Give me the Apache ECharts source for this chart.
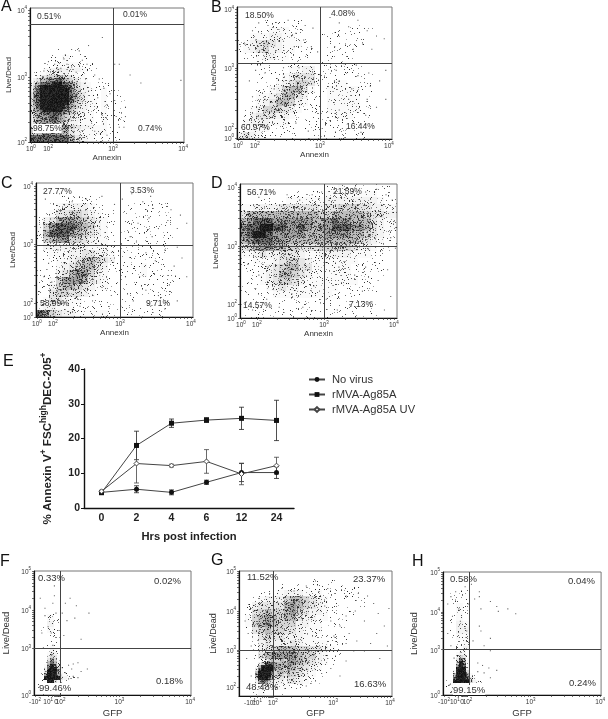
<!DOCTYPE html>
<html><head><meta charset="utf-8">
<style>html,body{margin:0;padding:0;background:#fff}#c{width:608px;height:719px;filter:blur(0.5px)}</style>
<script src="https://cdn.jsdelivr.net/npm/echarts@6/dist/echarts.min.js"></script>
</head><body><div id="c"></div>
<script>
// ---- Panel E values
const hours = ['0','2','4','6','12','24'];
const noVirus = [4.5,5.4,4.5,7.4,10.2,10.2];
const noVirusErr = [0.3,1.0,0.7,0.6,2.6,1.7];
const ag85a = [4.4,18.0,24.4,25.3,25.8,25.2];
const ag85aErr = [0.3,4.1,1.2,0.7,3.2,5.8];
const ag85aUV = [4.8,12.8,12.2,13.4,9.8,12.2];
const ag85aUVErr = [0.3,5.6,0.4,3.4,3.1,2.4];

// ---- Density: rows top to bottom, cols left to right, digit = darkness
const densA = ['000000000000000000000000','000000000000000000000000','000000000000000000000000','000000000000000000000000','000000000000000000000000','000000000000000000000000','000010010000000000000000','000112111000000000000000','001122221100000000000000','012343332110000000000000','156766543211000000000000','378998754211100000000000','479999864322110000000000','479999864322111000000000','479999854322111000000000','478998653322111000000000','367887543322111000000000','357887543322110000000000','567776432222110000000000','888888643211110000000000'];
const densB = ['000000000000000000000000','000000000000000000000000','000011111100000000100000','001112221110000111111000','012223322110011111111000','123454322210001111110000','123453322111001111110000','011233221110001111000000','001111111110011111100000','000111112233011111110000','000111123444211111111000','000111234554211221111000','000112356642112222211000','000223466431112222211000','001234665321112222211000','012355543211112222211000','013444332111111222111000','023332221111111111110000','112221111111111111110000','343211111111110111110000'];
const densC = ['000000000000000000000000','000000000000000000000000','000011111100000011000000','001233332110001111111000','012445543211011111111000','134677654321011111111000','257888765321011111111000','268887654321011111111000','156775543221011111111000','133333332221011111111000','112223344332111111111000','111223456543111111111000','111234566431111121111000','111346775321111121111100','112577764321111111111100','113566543221111111111000','114554432111111111111000','124432211111111111111000','233222111111111111110000','875433222221111111110000'];
const densD = ['000000000000111211111110','000000011111122222222110','000111122222233333333211','223333444444344555443322','466666666666556666654433','678887777776678776664322','788998877876778887764322','789987777766677776654321','678887766666666666543211','456776655444555554332111','223433444322333332221100','112223455432222222111100','111234566442222221111100','111234665432222221111100','111234554322222222111000','111123433222222111111000','111112222222221111111000','111111111111111111111000','111111111111111111111000','111111111111111111111000'];
const densF = ['000000000000000000000000','000000000000000000000000','000000000000000000000000','000000000000000000000000','000000000000000000000000','000000000000000000000000','000000000000000000000000','002100000000000000000000','013100000000000000000000','012100000000000000000000','001100000000000000000000','001100000000000000000000','003200000000000000000000','005300000000000000000000','008500000000000000000000','019960000000000000000000','029983100000000000000000','059994100000000000000000','011100000000000000000000','011000000000000000000000'];
const densG = ['000000000000000000000000','000000000001101000000000','000000111111111111100000','000111233322211111100000','001233356654321111110000','013444467654321111110000','014565567543321111000000','025676566433221110000000','025676555332211110000000','014565544322211110000000','002454433322111110000000','001343334322221110000000','001345666554432100000000','001467777655321100000000','002799877654321000000000','003999876543210000000000','003999765432110000000000','002997544321100000000000','001222221110000000000000','001211100000000000000000'];
const densH = ['000000000000000000000000','000000000000000000000000','000000000000000000000000','011100000000000000000000','011100000000000000000000','012100000000000000000000','012100000000000000000000','012100000000000000000000','013200000000000000000000','013300000000000000000000','012200000000000000000000','001200000000000000000000','001300000000000000000000','005600000000000000000000','007800000000000000000000','009910000000000000000000','029952000000000000000000','019982000000000000000000','011100000000000000000000','011000000000000000000000'];

// Finer reading (half-size cells) of the dense blobs: first fine row, then rows starting at col 0
const fineA = [19,['0112233333332221100000','0124455566544322211100','1346677788765443221110','2468888999887654322111','3579999999988654332111','3689999999998755332211','4789999999998765432211','4789999999998765432211','4789999999998765432221','4789999999997654332221','4689999999987654332221','4678999999876543322211','3567888888765443322211','3567778887654433222211','3567778877654333222211','3567777776543332222111']];
const fineF = [24,['000012100000','000013210000','000024310000','000035420000','000047520000','000168631000','000279741000','000389952100','001499962100','001799973210','001999994321','001299532110','012211100000','011110000000','012110000000','001100000000']];
const fineG = [28,['000000023565565','000000358887666','000002699997766','000004899996665','000006999985665','000006999975554','000005999864443','000003787543332']];
const fineH = [25,['000012200000','000023300000','000035410000','000048620000','000059720000','000079820000','000199930000','000399951000','001699972100','001899984210','012999995321','012210000000','011110000000','012100000000','001100000000']];

// ---- Individually visible events [display x, display y], 0-100 on each panel
const dotsA = [[47,78],[38,72],[32,68],[27,69],[23,65],[22,62],[12,60],[24,58],[34,61],[37,58],[27,56],[9,53],[55,58],[58,58],[65,50],[72,44],[98,46],[56,19],[62,19],[58,11],[61,11],[55,31],[62,26],[30,52],[20,55],[16,58],[42,50],[45,47],[48,40],[44,33],[50,28],[47,20],[40,14],[52,36],[36,44],[34,30],[28,16],[42,8],[50,5],[38,38]];
const dotsB = [[10,82],[14,88],[20,86],[27,83],[33,90],[38,80],[44,86],[49,84],[60,92],[66,88],[72,85],[78,90],[84,82],[90,78],[95,76],[63,70],[70,72],[75,68],[81,72],[87,68],[5,72],[8,68],[12,75],[30,74],[37,70],[43,75],[48,70],[52,66],[96,52],[92,44],[86,40],[78,48],[72,30],[66,22],[60,14],[68,8],[75,12],[83,18],[90,24],[96,30],[88,10],[80,5],[55,8],[46,6],[38,12],[30,8],[18,30],[24,38],[10,32],[8,44],[12,52],[18,50],[30,54],[40,54],[62,36],[66,44],[74,38],[84,30],[64,52],[69,57],[77,56],[85,50]];
const dotsC = [[6,88],[15,92],[23,86],[32,88],[42,90],[50,84],[55,88],[61,92],[68,86],[73,90],[80,84],[86,80],[92,76],[65,70],[72,74],[78,66],[84,72],[90,66],[96,70],[64,56],[70,48],[76,42],[82,50],[88,38],[93,44],[96,30],[85,24],[78,16],[70,20],[62,12],[66,30],[73,8],[90,12],[57,30],[50,44],[8,40],[14,50],[5,30],[10,26],[42,22],[48,16],[36,12],[54,8],[28,8],[60,60],[74,60],[90,52],[82,6]];
const dotsD = [[12,90],[20,94],[30,92],[38,88],[46,92],[52,94],[60,96],[67,92],[73,97],[80,94],[87,96],[93,92],[97,88],[98,72],[96,60],[99,52],[5,40],[12,32],[10,22],[17,14],[25,8],[33,18],[40,8],[47,24],[55,14],[62,6],[70,10],[78,20],[84,12],[92,6],[96,16],[88,28],[94,36],[80,38],[73,32],[63,38],[4,12],[8,6],[18,38],[26,28]];
const dotsF = [[4,78],[7,70],[12,74],[13,80],[13,88],[20,74],[23,78],[27,72],[26,62],[35,66],[30,45],[28,26],[25,25],[22,24],[18,22],[20,18],[24,21],[34,21],[30,19],[7,64],[9,55],[14,66],[5,50],[16,52],[19,48],[12,40],[21,60],[17,16],[22,13],[25,15],[28,14],[6,6],[8,4],[11,3],[14,8],[18,66],[11,50],[6,38]];
const dotsG = [[36,84],[44,88],[50,92],[58,86],[63,82],[70,80],[78,82],[84,80],[88,74],[91,66],[95,56],[90,50],[82,60],[76,68],[70,64],[66,56],[62,48],[72,50],[77,44],[82,36],[92,30],[97,40],[70,28],[60,22],[66,16],[50,12],[44,8],[30,6],[4,60],[6,50],[8,40],[5,30],[8,16],[7,10],[10,68],[14,74],[20,82],[28,86],[56,72],[60,60],[70,42],[75,36],[58,30],[54,18],[98,70],[86,42]];
const dotsH = [[3,74],[5,80],[8,84],[10,70],[14,88],[16,74],[18,90],[20,78],[23,84],[24,70],[23,80],[23,56],[30,76],[34,72],[35,68],[41,70],[46,66],[30,46],[26,40],[30,36],[34,20],[29,22],[25,24],[22,26],[22,19],[26,18],[30,14],[3,50],[5,40],[7,30],[11,60],[15,52],[4,8],[6,6],[7,4],[24,52],[6,64],[19,44]];

// ---- Gate positions (display units)
const gateA = [53.9,87.8]; const gateB = [53.5,57.6]; const gateC = [53.5,53.7]; const gateD = [53.5,53.7];
const gateF = [16.9,37.6]; const gateG = [22.2,36.8]; const gateH = [16.7,36.8];

// ---- Tick label positions (display units)
const xTicksA = [[0.6,'0'],[11.7,'2'],[53.9,'3'],[99.4,'4']];
const yTicksA = [[0,'2'],[48.5,'3'],[98.5,'4']];
const xTicksB = [[0.6,'0'],[11.6,'2'],[53.5,'3'],[98,'4']];
const yTicksB = [[0.8,'0'],[8.5,'2'],[53.8,'3'],[98,'4']];
const xTicksC = [[0.6,'0'],[10.8,'2'],[53.5,'3'],[98.7,'4']];
const yTicksC = [[0,'0'],[10.5,'2'],[54.5,'3'],[97.8,'4']];
const xTicksD = [[0.6,'0'],[10.8,'2'],[53.5,'3'],[98,'4']];
const yTicksD = [[0,'0'],[10.5,'2'],[53.7,'3'],[97.8,'4']];
const xTicksF = [[0.6,'-2'],[9,'1'],[14,'o'],[16.9,'2'],[54.4,'3'],[99.4,'4']];
const yTicksF = [[0,'0'],[37.6,'3'],[68.5,'4'],[100,'5']];
const xTicksG = [[2,'-2'],[7.2,'-1'],[11.8,'1'],[22.2,'2'],[61.5,'3'],[98.7,'4']];
const yTicksG = [[0,'0'],[7,'2'],[36.8,'3'],[68,'4'],[100,'5']];
const xTicksH = [[0.6,'-2'],[7.5,'1'],[12,'o'],[15.5,'2'],[55.5,'3'],[99.4,'4']];
const yTicksH = [[0,'0'],[36.8,'3'],[67.5,'4'],[100,'5']];

const quadA = ['0.51%','0.01%','98.75%','0.74%'];
const quadB = ['18.50%','4.08%','60.97%','16.44%'];
const quadC = ['27.77%','3.53%','58.99%','9.71%'];
const quadD = ['56.71%','21.59%','14.57%','7.13%'];
const quadF = ['0.33%','0.02%','99.46%','0.18%'];
const quadG = ['11.52%','23.37%','48.48%','16.63%'];
const quadH = ['0.58%','0.04%','99.15%','0.24%'];

const panels = [
 {k:'A',box:[30,8,154,134],dens:densA,fine:fineA,dots:dotsA,gate:gateA,xt:xTicksA,yt:yTicksA,q:quadA,xn:'Annexin',yn:'Live/Dead',fs:8.5,ns:8,
  qp:[[37,17],[123,15],[33,129,1],[138,129]],lp:[1,7],xg:11,yg:17},
 {k:'B',box:[237,7,155,132],dens:densB,dots:dotsB,gate:gateB,xt:xTicksB,yt:yTicksB,q:quadB,xn:'Annexin',yn:'Live/Dead',fs:8.5,ns:8,
  qp:[[245,16],[331,14],[241,128],[346,127]],lp:[211,8],xg:11,yg:19},
 {k:'C',box:[36,183,157,134],dens:densC,dots:dotsC,gate:gateC,xt:xTicksC,yt:yTicksC,q:quadC,xn:'Annexin',yn:'Live/Dead',fs:8.5,ns:8,
  qp:[[43,192],[130,191],[40,304],[146,304]],lp:[1,184],xg:11,yg:19},
 {k:'D',box:[240,184,157,134],dens:densD,dots:dotsD,gate:gateD,xt:xTicksD,yt:yTicksD,q:quadD,xn:'Annexin',yn:'Live/Dead',fs:8.5,ns:8,
  qp:[[247,193],[333,192],[243,306],[349,305]],lp:[211,184],xg:11,yg:20},
 {k:'F',box:[31,571,160,125],dens:densF,fine:fineF,dots:dotsF,gate:gateF,xt:xTicksF,yt:yTicksF,q:quadF,xn:'GFP',yn:'Live/Dead',fs:9.5,ns:9.5,
  qp:[[38,578],[154,581],[39,688,1],[156,681]],lp:[0,562],xg:13,yg:23},
 {k:'G',box:[239,571,153,125],dens:densG,fine:fineG,dots:dotsG,gate:gateG,xt:xTicksG,yt:yTicksG,q:quadG,xn:'GFP',yn:'Live/Dead',fs:9.5,ns:9,
  qp:[[247,577],[353,579],[246,687],[354,684]],lp:[211,561],xg:13,yg:21},
 {k:'H',box:[443,572,162,125],dens:densH,fine:fineH,dots:dotsH,gate:gateH,xt:xTicksH,yt:yTicksH,q:quadH,xn:'GFP',yn:'Live/Dead',fs:9.5,ns:9.5,
  qp:[[450,579],[568,581],[453,690,1],[569,683]],lp:[412,562],xg:13,yg:24}
];

// Coarse rows doubled onto the half-size grid, with the finer reading laid over them
function cellRows(p){
  const out=[];
  p.dens.forEach(row=>{ const d=[...row].map(ch=>ch+ch).join(''); out.push(d,d); });
  if(p.fine) p.fine[1].forEach((line,i)=>{ const r=p.fine[0]+i; out[r]=line+out[r].slice(line.length); });
  return out;
}

// Stipple fill for the density cells: a fixed texture per darkness level (wash + grain)
const COVER=[0,.05,.09,.14,.2,.28,.36,.45,.55,.7];
const WASH=[0,0,.02,.05,.1,.17,.27,.38,.58,.86];
const TILE=131;
function grain(x,y,a,b){ const s=Math.sin(x*a+y*b)*43758.5453; return s-Math.floor(s); }
const STIPPLE=COVER.map((f,l)=>{
  const cv=document.createElement('canvas'); cv.width=cv.height=TILE; const g=cv.getContext('2d');
  for(let x=0;x<TILE;x++)for(let y=0;y<TILE;y++){
    let a=WASH[l];
    if(grain(x,y,12.9898,78.233)<f){ const t=.3+.6*grain(x,y,39.346,11.135); a=a+(1-a)*t; }
    if(a>0){ g.fillStyle='rgba(10,10,10,'+a.toFixed(2)+')'; g.fillRect(x,y,1,1);} }
  return cv;
});

const FONT = '"Liberation Sans",Arial,sans-serif';
const grid=[], xAxis=[], yAxis=[], series=[], graphic=[];
const tickRich = {b:{fontSize:6.5,fontFamily:FONT,color:'#333',lineHeight:9,verticalAlign:'bottom'},
                  s:{fontSize:4.5,fontFamily:FONT,color:'#333',lineHeight:9,verticalAlign:'top'}};
function tickText(t){ if(t==='o') return '{b|0}'; return '{b|'+(t[0]==='-'?'-10':'10')+'}{s|'+t.replace('-','')+'}'; }
function minorTicks(ts){
  const pos=[]; const nums=ts.filter(t=>/^\d$/.test(t[1]));
  for(let i=0;i<nums.length-1;i++){ const a=nums[i][0],b=nums[i+1][0];
    if(+nums[i+1][1]-+nums[i][1]!==1) continue;
    for(let m=2;m<10;m++) pos.push(a+(b-a)*Math.log10(m)); }
  return pos;
}
const snap=v=>Math.round(+v.toFixed(3));
function renderDensity(params,api){
  const c=api.coord([api.value(0),api.value(1)]), sz=api.size([1,1]);
  const x1=snap(c[0]-sz[0]/2), x2=snap(c[0]+sz[0]/2), y1=snap(c[1]-sz[1]/2), y2=snap(c[1]+sz[1]/2);
  return {type:'rect',shape:{x:x1,y:y1,width:x2-x1,height:y2-y1},
    style:{fill:{image:STIPPLE[api.value(2)],repeat:'repeat'},stroke:null}};
}
panels.forEach((p,i)=>{
  const gi=grid.length;
  grid.push({left:p.box[0],top:p.box[1],width:p.box[2],height:p.box[3],show:true,borderColor:'#777',borderWidth:1,backgroundColor:'#fff'});
  const xm=new Map(p.xt), ym=new Map(p.yt);
  const xi=xAxis.length, yi=yAxis.length;
  xAxis.push({type:'value',gridIndex:gi,min:0,max:100,name:p.xn,nameLocation:'middle',nameGap:p.xg,
    nameTextStyle:{fontSize:p.ns,fontFamily:FONT,color:'#333'},splitLine:{show:false},
    axisLine:{show:true,onZero:false,lineStyle:{color:'#111',width:1.2}},
    axisTick:{show:true,length:2,customValues:p.xt.map(t=>t[0]).concat(minorTicks(p.xt)),lineStyle:{color:'#333',width:.7}},
    axisLabel:{customValues:p.xt.map(t=>t[0]),margin:2,formatter:v=>tickText(xm.get(v)),rich:tickRich,hideOverlap:false}});
  yAxis.push({type:'value',gridIndex:gi,min:0,max:100,name:p.yn,nameLocation:'middle',nameGap:p.yg,
    nameTextStyle:{fontSize:p.ns,fontFamily:FONT,color:'#333'},splitLine:{show:false},
    axisLine:{show:true,onZero:false,lineStyle:{color:'#111',width:1.2}},
    axisTick:{show:true,length:2,customValues:p.yt.map(t=>t[0]).concat(minorTicks(p.yt)),lineStyle:{color:'#333',width:.7}},
    axisLabel:{customValues:p.yt.map(t=>t[0]),margin:3,formatter:v=>tickText(ym.get(v)),rich:tickRich,hideOverlap:false}});
  const fineRows=cellRows(p);
  const cols=[...fineRows[0]].map((_,c)=>String(c)), rows=fineRows.map((_,r)=>String(r));
  xAxis.push({type:'category',gridIndex:gi,data:cols,show:false});
  yAxis.push({type:'category',gridIndex:gi,data:rows,inverse:true,show:false});
  const cells=[];
  fineRows.forEach((row,r)=>[...row].forEach((d,c)=>{ if(d!=='0') cells.push([c,r,+d]); }));
  series.push({type:'custom',xAxisIndex:xi+1,yAxisIndex:yi+1,data:cells,silent:true,z:1,renderItem:renderDensity,encode:{x:0,y:1}});
  series.push({type:'scatter',xAxisIndex:xi,yAxisIndex:yi,data:p.dots,symbol:'rect',symbolSize:1.1,silent:true,
    itemStyle:{color:'#444'},z:2,
    markLine:{silent:true,symbol:'none',label:{show:false},animation:false,lineStyle:{color:'#444',width:1,type:'solid'},
      data:[{xAxis:p.gate[0]},{yAxis:p.gate[1]}]}});
  p.q.forEach((t,j)=>{ const qp=p.qp[j];
    graphic.push({type:'text',left:qp[0],top:qp[1]-5,z:50,style:{text:t,fontSize:p.fs,fontFamily:FONT,fill:'#333',
      backgroundColor:qp[2]?'#fff':undefined}});
  });
  graphic.push({type:'text',left:p.lp[0],top:p.lp[1]-8,z:50,style:{text:p.k,fontSize:16,fontFamily:FONT,fill:'#111'}});
});
graphic.push({type:'text',left:3,top:354,z:50,style:{text:'E',fontSize:16,fontFamily:FONT,fill:'#111'}});

// ---- Panel E
const gE=grid.length, xE=xAxis.length, yE=yAxis.length;
grid.push({left:84,top:369,width:210,height:139});
xAxis.push({type:'category',gridIndex:gE,data:hours,name:'Hrs post infection',nameLocation:'middle',nameGap:23,
  nameTextStyle:{fontSize:11.2,fontWeight:'bold',fontFamily:FONT,color:'#222'},
  axisLine:{lineStyle:{color:'#111',width:1.4}},axisTick:{alignWithLabel:true,length:3,lineStyle:{color:'#111',width:1}},
  axisLabel:{fontSize:10.5,fontWeight:'bold',fontFamily:FONT,color:'#222',margin:5}});
yAxis.push({type:'value',gridIndex:gE,min:0,max:40,interval:10,splitLine:{show:false},
  name:'{t|% Annexin V}{u|+}{t| FSC}{u|high}{t|DEC-205}{u|+}',nameLocation:'middle',nameGap:30,
  nameTextStyle:{rich:{t:{fontSize:11.6,fontWeight:'bold',fontFamily:FONT,color:'#222',lineHeight:15,verticalAlign:'bottom'},
    u:{fontSize:8.5,fontWeight:'bold',fontFamily:FONT,color:'#222',lineHeight:15,verticalAlign:'top'}}},
  axisLine:{show:true,lineStyle:{color:'#111',width:1.4}},axisTick:{show:true,length:3,lineStyle:{color:'#111',width:1}},
  axisLabel:{fontSize:10.5,fontWeight:'bold',fontFamily:FONT,color:'#222',margin:4}});
function errSeries(vals,errs,color){
  return {type:'custom',xAxisIndex:xE,yAxisIndex:yE,silent:true,z:3,
    data:vals.map((v,i)=>[i,v-errs[i],v+errs[i]]),encode:{x:0,y:[1,2]},
    renderItem(params,api){
      const a=api.coord([api.value(0),api.value(1)]), b=api.coord([api.value(0),api.value(2)]);
      const st={stroke:color,lineWidth:.8};
      return {type:'group',children:[
        {type:'line',shape:{x1:a[0],y1:a[1],x2:b[0],y2:b[1]},style:st},
        {type:'line',shape:{x1:a[0]-2.5,y1:a[1],x2:a[0]+2.5,y2:a[1]},style:st},
        {type:'line',shape:{x1:b[0]-2.5,y1:b[1],x2:b[0]+2.5,y2:b[1]},style:st}]};
    }};
}
series.push(errSeries(noVirus,noVirusErr,'#222'),errSeries(ag85a,ag85aErr,'#222'),errSeries(ag85aUV,ag85aUVErr,'#444'));
series.push({name:'No virus',type:'line',xAxisIndex:xE,yAxisIndex:yE,data:noVirus,symbol:'circle',symbolSize:5,
  itemStyle:{color:'#111'},lineStyle:{color:'#444',width:1},z:4});
series.push({name:'rMVA-Ag85A',type:'line',xAxisIndex:xE,yAxisIndex:yE,data:ag85a,symbol:'rect',symbolSize:5,
  itemStyle:{color:'#111'},lineStyle:{color:'#444',width:1},z:5});
series.push({name:'rMVA-Ag85A UV',type:'line',xAxisIndex:xE,yAxisIndex:yE,data:ag85aUV,symbol:'diamond',symbolSize:5,
  itemStyle:{color:'#fff',borderColor:'#444',borderWidth:1},lineStyle:{color:'#444',width:1},z:6});

const chart=echarts.init(document.getElementById('c'),null,{renderer:'canvas'});
chart.setOption({animation:false,backgroundColor:'#fff',grid,xAxis,yAxis,series,graphic,
  legend:{show:true,orient:'vertical',left:303,top:369,itemWidth:16,itemHeight:6,itemGap:4,
    data:['No virus','rMVA-Ag85A','rMVA-Ag85A UV'],selectedMode:false,
    textStyle:{fontSize:11.2,fontFamily:FONT,color:'#333',padding:[0,0,0,2]}}});
</script></body></html>
